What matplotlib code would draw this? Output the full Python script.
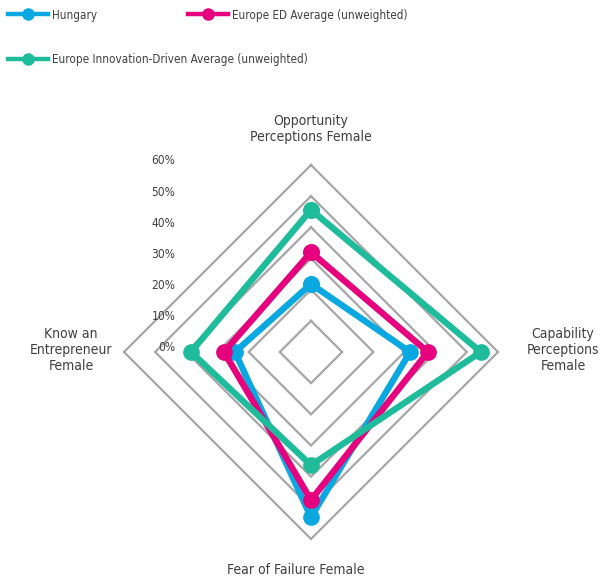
import matplotlib
matplotlib.use("Agg")
import matplotlib.pyplot as plt
import numpy as np
from matplotlib.lines import Line2D

plt.rcParams['font.family'] = ['DejaVu Sans']
plt.rcParams['font.stretch'] = 'condensed'

categories = ["Opportunity\nPerceptions Female",
              "Capability\nPerceptions\nFemale",
              "Fear of Failure Female",
              "Know an\nEntrepreneur\nFemale"]
series_names = ["Hungary",
                "Europe ED Average (unweighted)",
                "Europe Innovation-Driven Average (unweighted)"]
hungary = [21.8, 31.8, 53.0, 24.4]
europe_ed = [32.0, 37.5, 47.5, 27.9]
europe_innov = [45.6, 54.5, 36.3, 38.5]
tick_values = [0, 10, 20, 30, 40, 50, 60]
tick_labels = ["0%", "10%", "20%", "30%", "40%", "50%", "60%"]

colors = ["#0aa8e0", "#e6007e", "#1fbc9c"]
grid_color = "#a6a6a6"
text_color = "#404040"

W, H = 615, 583
fig = plt.figure(figsize=(W / 100, H / 100), dpi=100)
ax = fig.add_axes([0, 0, 1, 1])
ax.axis("off")

cx, cy = 311, 352
scale = 3.117  # px per percent
ax.set_xlim(-cx / scale, (W - cx) / scale)
ax.set_ylim(-(H - cy) / scale, cy / scale)

angles = np.array([0, 90, 180, 270]) * np.pi / 180.0  # clockwise from top


def to_xy(vals):
    vals = np.asarray(vals, dtype=float)
    x = vals * np.sin(angles)
    y = vals * np.cos(angles)
    return np.append(x, x[0]), np.append(y, y[0])


# grid diamonds
for v in tick_values[1:]:
    gx, gy = to_xy([v] * 4)
    ax.plot(gx, gy, color=grid_color, lw=1.6, zorder=1, solid_joinstyle='miter')

# tick labels
for v, lab in zip(tick_values, tick_labels):
    ax.text(-43.5, v + 1.3, lab, ha="right", va="center", fontsize=8.6,
            color=text_color, zorder=2)

# data series
handles = []
for i, (vals, name) in enumerate(zip([hungary, europe_ed, europe_innov], series_names)):
    sx, sy = to_xy(vals)
    ln, = ax.plot(sx, sy, color=colors[i], lw=4.6, marker="o", markersize=11,
                  zorder=3 + i, solid_joinstyle='miter', label=name)
    handles.append(ln)

# category labels
ax.text(0, (cy - 129) / scale, categories[0], ha="center", va="center",
        fontsize=10, color=text_color, linespacing=1.2)
ax.text((563 - cx) / scale, (cy - 350) / scale, categories[1], ha="center",
        va="center", fontsize=10, color=text_color, linespacing=1.15)
ax.text((296 - cx) / scale, (cy - 570) / scale, categories[2], ha="center",
        va="center", fontsize=10, color=text_color)
ax.text((71 - cx) / scale, (cy - 350) / scale, categories[3], ha="center",
        va="center", fontsize=10, color=text_color, linespacing=1.15)

# legend entries
legend_pos = [(8, 15), (188, 15), (8, 60)]
for i, (h, name) in enumerate(zip(handles, series_names)):
    proxy = Line2D([0], [0], color=colors[i], lw=3.2, marker="o", markersize=8)
    px, py = legend_pos[i]
    leg = fig.legend(handles=[proxy], labels=[name], loc="center left",
                     bbox_to_anchor=(px / W, 1 - py / H), frameon=False,
                     fontsize=8.4, handlelength=3.4, handletextpad=0.4,
                     borderpad=0, borderaxespad=0, numpoints=1,
                     labelcolor=text_color)

fig.savefig("out.png", dpi=100)
